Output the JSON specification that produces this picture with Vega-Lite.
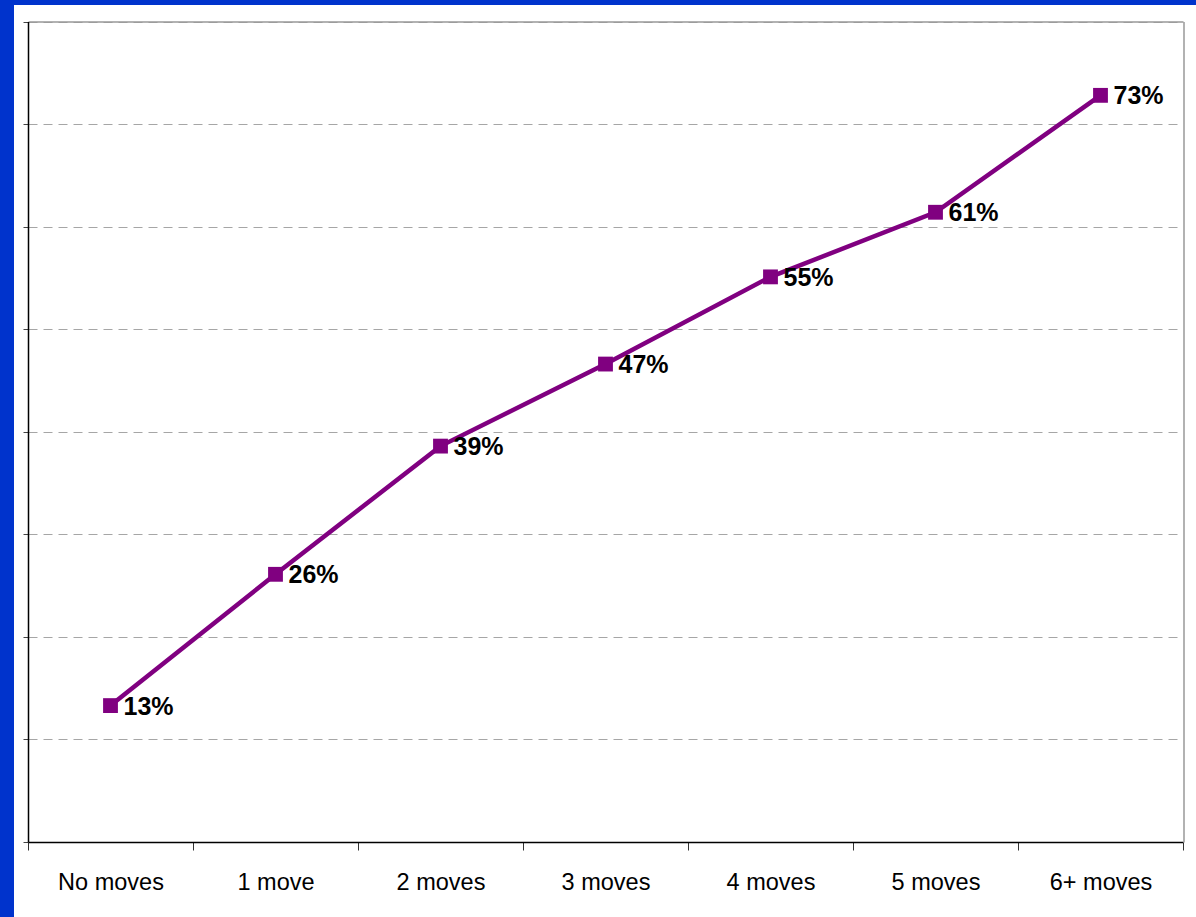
{
  "$schema": "https://vega.github.io/schema/vega-lite/v6.json",
  "width": 1182,
  "height": 912,
  "autosize": {"type": "none"},
  "padding": {"left": 14, "top": 5, "right": 0, "bottom": 0},
  "background": "#0033CC",
  "config": {
    "view": {"fill": "white", "stroke": null},
    "font": "Liberation Sans"
  },
  "data": {
    "values": [
      {"moves": "No moves", "share": 0.133},
      {"moves": "1 move", "share": 0.261},
      {"moves": "2 moves", "share": 0.386},
      {"moves": "3 moves", "share": 0.466},
      {"moves": "4 moves", "share": 0.551},
      {"moves": "5 moves", "share": 0.614},
      {"moves": "6+ moves", "share": 0.728}
    ]
  },
  "resolve": {"axis": {"x": "independent", "y": "independent"}},
  "layer": [
    {
      "mark": {
        "type": "line",
        "color": "#800080",
        "strokeWidth": 4.5,
        "point": {"shape": "square", "size": 220, "filled": true, "color": "#800080", "opacity": 1}
      },
      "encoding": {
        "x": {
          "field": "moves",
          "type": "ordinal",
          "sort": null,
          "scale": {"type": "band", "range": [14, 1169], "paddingInner": 0, "paddingOuter": 0},
          "axis": {
            "orient": "bottom",
            "offset": -75,
            "title": null,
            "labelAngle": 0,
            "labelFont": "Liberation Sans",
            "labelFontSize": 23.5,
            "labelColor": "black",
            "labelPadding": 20,
            "tickBand": "extent",
            "tickSize": 8,
            "tickColor": "#333333",
            "domainColor": "black",
            "domainWidth": 1.5,
            "grid": false
          }
        },
        "y": {
          "field": "share",
          "type": "quantitative",
          "scale": {"domain": [0, 0.8], "range": [837, 16.5], "nice": false, "zero": true},
          "axis": {
            "orient": "left",
            "offset": -14,
            "title": null,
            "labels": false,
            "values": [0, 0.1, 0.2, 0.3, 0.4, 0.5, 0.6, 0.7, 0.8],
            "tickSize": 5,
            "tickColor": "#444444",
            "domainColor": "black",
            "domainWidth": 1.5,
            "grid": true,
            "gridColor": "#a6a6a6",
            "gridDash": [9, 6],
            "gridWidth": 1
          }
        }
      }
    },
    {
      "mark": {
        "type": "text",
        "align": "left",
        "baseline": "middle",
        "dx": 13,
        "dy": 1,
        "fontSize": 25,
        "fontWeight": "bold",
        "font": "Liberation Sans",
        "color": "black"
      },
      "encoding": {
        "x": {
          "field": "moves",
          "type": "ordinal",
          "sort": null,
          "scale": {"type": "band", "range": [14, 1169], "paddingInner": 0, "paddingOuter": 0},
          "axis": {
            "orient": "top",
            "offset": -16.5,
            "title": null,
            "labels": false,
            "ticks": false,
            "grid": false,
            "domainColor": "#999999",
            "domainWidth": 1.5
          }
        },
        "y": {
          "field": "share",
          "type": "quantitative",
          "scale": {"domain": [0, 0.8], "range": [837, 16.5], "nice": false, "zero": true},
          "axis": {
            "orient": "right",
            "offset": -12.5,
            "title": null,
            "labels": false,
            "ticks": false,
            "grid": false,
            "domainColor": "#999999",
            "domainWidth": 1.5
          }
        },
        "text": {"field": "share", "type": "quantitative", "format": ".0%"}
      }
    }
  ]
}
